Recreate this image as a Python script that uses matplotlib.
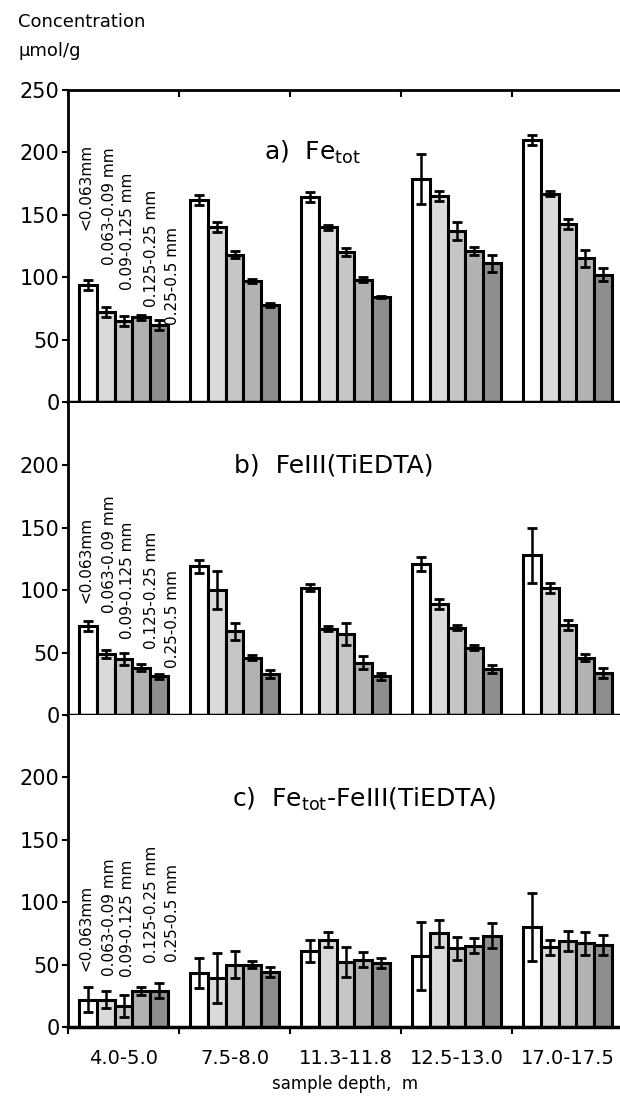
import numpy as np
import matplotlib
matplotlib.use("Agg")
import matplotlib.pyplot as plt

plt.rcParams['font.family'] = ['DejaVu Sans']

depths = ["4.0-5.0", "7.5-8.0", "11.3-11.8", "12.5-13.0", "17.0-17.5"]
fractions = ["<0.063mm", "0.063-0.09 mm", "0.09-0.125 mm", "0.125-0.25 mm", "0.25-0.5 mm"]

# rows = depth groups, columns = size fractions
fe_tot = [[94, 72, 65, 68, 62],
          [162, 140, 118, 97, 78],
          [164, 140, 120, 98, 84],
          [179, 165, 137, 121, 111],
          [210, 167, 143, 115, 102]]
fe_tot_err = [[4, 4, 4, 2, 4],
              [4, 4, 3, 1.5, 1.5],
              [4, 2, 3, 2, 1],
              [20, 4, 7, 3, 7],
              [4, 2, 4, 7, 5]]

fe3 = [[71, 49, 45, 38, 31],
       [119, 100, 67, 46, 33],
       [102, 69, 65, 42, 31],
       [121, 89, 70, 54, 37],
       [128, 102, 72, 46, 34]]
fe3_err = [[4, 3, 5, 3, 2],
           [5, 15, 7, 2, 3],
           [3, 2, 9, 5, 3],
           [6, 4, 2, 2, 3],
           [22, 4, 4, 3, 4]]

diff = [[22, 22, 17, 29, 29],
        [43, 39, 50, 50, 44],
        [61, 70, 52, 54, 51],
        [57, 75, 63, 65, 73],
        [80, 64, 69, 67, 66]]
diff_err = [[10, 7, 9, 3, 6],
            [12, 20, 11, 3, 4],
            [9, 6, 12, 6, 4],
            [27, 11, 9, 6, 10],
            [27, 6, 8, 9, 8]]

titles = ["a)  Fe$_{\\mathregular{tot}}$",
          "b)  FeIII(TiEDTA)",
          "c)  Fe$_{\\mathregular{tot}}$-FeIII(TiEDTA)"]
title_pos = [(1.70, 200), (1.89, 200), (2.17, 182)]
# where the rotated fraction labels start in each panel
label_bottoms = [[138, 110, 90, 76, 62],
                 [90, 82, 61, 53, 38],
                 [45, 41, 40, 51, 52]]
label_dx = [-0.34, -0.13, 0.04, 0.25, 0.44]

colors = ["#ffffff", "#dadada", "#c6c6c6", "#b2b2b2", "#8e8e8e"]
bw = 0.16

fig = plt.figure(figsize=(6.2, 10.99), dpi=100)
left, width = 68 / 620, 555 / 620
tops = [90, 403, 715]
h = 312

panels = [(fe_tot, fe_tot_err), (fe3, fe3_err), (diff, diff_err)]
x = np.arange(len(depths))
for p, (vals, errs) in enumerate(panels):
    bottom = 1 - (tops[p] + h) / 1099
    ax = fig.add_axes([left, bottom, width, h / 1099])
    vals = np.array(vals)
    errs = np.array(errs)
    for k in range(len(fractions)):
        ax.bar(x + (k - 2) * bw, vals[:, k], bw, color=colors[k],
               edgecolor="black", linewidth=2.2, zorder=2)
        ax.errorbar(x + (k - 2) * bw, vals[:, k], yerr=errs[:, k], fmt="none",
                    ecolor="black", elinewidth=1.8, capsize=3.5, capthick=2,
                    zorder=3)
    for k in range(len(fractions)):
        ax.text(label_dx[k], label_bottoms[p][k], fractions[k], rotation=90,
                ha="center", va="bottom", fontsize=11)
    ax.text(title_pos[p][0], title_pos[p][1], titles[p], ha="center",
            va="center", fontsize=18)

    ax.set_xlim(-0.5, 4.5)
    ax.set_ylim(0, 250)
    if p == 0:
        ax.set_yticks([0, 50, 100, 150, 200, 250])
    else:
        ax.set_yticks([0, 50, 100, 150, 200])
    ax.tick_params(axis="y", direction="out", length=4, width=1.5,
                   labelsize=15, pad=2)
    ax.spines["right"].set_visible(False)
    ax.spines["left"].set_linewidth(2)
    ax.spines["bottom"].set_linewidth(2.5)
    ax.spines["top"].set_visible(p == 0)
    ax.spines["top"].set_linewidth(2)

    ax.set_xticks(x)
    ax.set_xticks([-0.5, 0.5, 1.5, 2.5, 3.5], minor=True)
    if p == 2:
        ax.set_xticklabels(depths)
        ax.tick_params(axis="x", which="major", length=0, labelsize=14, pad=16)
        ax.tick_params(axis="x", which="minor", direction="out", length=5, width=1.5)
        ax.set_xlabel("sample depth,  m", fontsize=12, labelpad=5)
    elif p == 0:
        ax.set_xticklabels([])
        ax.tick_params(axis="x", which="both", bottom=False, top=True,
                       direction="in", length=0)
        ax.tick_params(axis="x", which="minor", top=True, bottom=False,
                       direction="in", length=5, width=1.5)
    else:
        ax.set_xticklabels([])
        ax.tick_params(axis="x", which="both", length=0)

fig.text(18 / 620, 1 - 22 / 1099, "Concentration", fontsize=13, va="center")
fig.text(18 / 620, 1 - 51 / 1099, "μmol/g", fontsize=13, va="center")

fig.savefig("out.png", dpi=100)
